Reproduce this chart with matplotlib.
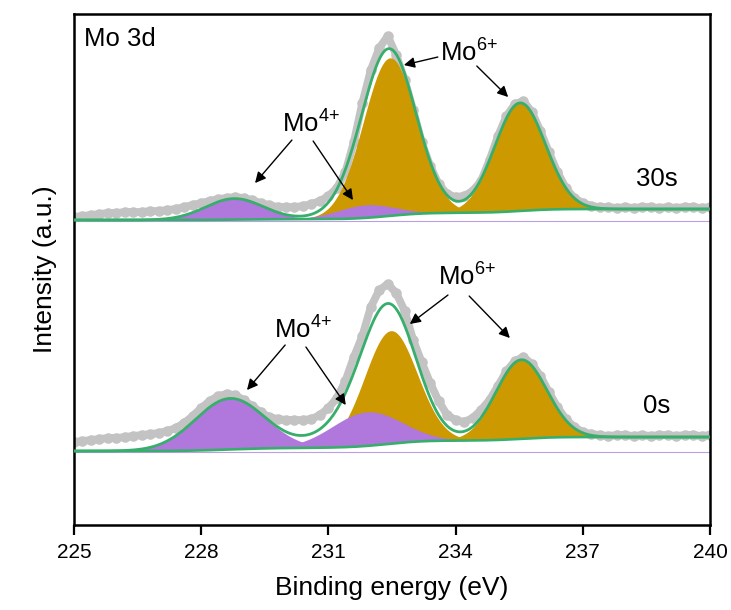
import numpy as np
import matplotlib

matplotlib.use("Agg")
import matplotlib.pyplot as plt

plt.rcParams["font.family"] = ["Liberation Sans", "DejaVu Sans"]
plt.rcParams["mathtext.fontset"] = "custom"
plt.rcParams["mathtext.rm"] = "Liberation Sans"
plt.rcParams["mathtext.it"] = "Liberation Sans:italic"

# binding energy of the measured points (eV)
energy = np.round(np.arange(225.0, 240.01, 0.2), 1)

# measured Mo 3d counts (a.u.), each relative to its own zero line
counts_0s = [
    10, 11, 12, 13, 14, 14, 15, 16, 17, 18, 19, 21, 24, 29, 36,
    44, 51, 56, 58, 57, 52, 46, 40, 35, 33,
    32, 32, 32, 33, 37, 44, 54, 71, 95, 116,
    145, 162, 168, 159, 141, 112, 90, 69, 51, 37,
    32, 30, 34, 42, 52, 66, 81, 91, 95, 88,
    76, 60, 45, 33, 25, 20, 18, 17, 16, 17,
    17, 16, 17, 16, 17, 17, 16, 17, 17, 16,
    17,
]
counts_30s = [
    4, 5, 6, 7, 8, 8, 9, 9, 9, 10, 10, 11, 12, 14, 16,
    18, 20, 22, 23, 24, 23, 21, 18, 16, 14,
    14, 14, 15, 17, 20, 25, 33, 49, 79, 118,
    151, 173, 185, 166, 141, 111, 79, 55, 37, 27,
    24, 25, 30, 40, 61, 85, 105, 117, 120, 109,
    90, 69, 49, 33, 23, 18, 15, 14, 14, 13,
    14, 13, 14, 14, 13, 14, 13, 14, 14, 13,
    14,
]

# fitted components: Mo4+ 3d5/2, Mo4+ 3d3/2, Mo6+ 3d5/2, Mo6+ 3d3/2
species = ["Mo4+", "Mo4+", "Mo6+", "Mo6+"]
centers_0s = [228.68, 231.90, 232.47, 235.55]
heights_0s = [51, 34, 113, 79]
fwhm_0s = [1.93, 1.93, 1.46, 1.41]
centers_30s = [228.78, 231.88, 232.45, 235.52]
heights_30s = [21, 13, 158, 108]
fwhm_30s = [1.60, 1.60, 1.48, 1.41]

# background levels at the low / high binding energy ends
background_0s = (1, 15)
background_30s = (1, 12)

offset_30s = 231

GOLD = "#CC9900"
PURPLE = "#B077DD"
GREEN = "#38AE6C"
GRAY = "#C3C3C3"


def gaussian(x, center, height, fwhm):
    return height * np.exp(-4 * np.log(2) * (x - center) ** 2 / fwhm ** 2)


def shirley_background(x, peaks_sum, low, high):
    steps = np.concatenate([[0.0], np.cumsum((peaks_sum[1:] + peaks_sum[:-1]) / 2 * np.diff(x))])
    return low + (high - low) * steps / steps[-1]


def draw_spectrum(ax, counts, centers, heights, widths, background, offset):
    grid = np.linspace(225, 240, 1501)
    components = [gaussian(grid, c, h, w) for c, h, w in zip(centers, heights, widths)]
    bg = shirley_background(grid, sum(components), *background) + offset

    ax.axhline(offset, color="#B9A0E2", lw=0.8, zorder=1)
    ax.plot(energy, np.asarray(counts) + offset, color=GRAY, lw=5.6,
            marker="o", ms=7.6, mec="none", solid_capstyle="round", zorder=2)
    for name in ("Mo6+", "Mo4+"):
        for comp, kind in zip(components, species):
            if kind == name:
                ax.fill_between(grid, bg, bg + comp, color=GOLD if name == "Mo6+" else PURPLE,
                                lw=0, zorder=3)
    ax.plot(grid, bg + sum(components), color=GREEN, lw=2.0, zorder=4)
    ax.plot(grid, bg, color=GREEN, lw=1.9, zorder=4)


def label_with_arrows(ax, text, pos, arrows):
    ax.text(*pos, text, fontsize=18.5, ha="left", va="baseline", zorder=6)
    for tail, head in arrows:
        ax.annotate("", xy=head, xytext=tail, zorder=6,
                    arrowprops=dict(arrowstyle="-|>", color="black", lw=1.0,
                                    mutation_scale=16, shrinkA=0, shrinkB=0))


def main():
    fig = plt.figure(figsize=(7.31, 6.10), dpi=100)
    ax = fig.add_axes([0.1012, 0.1393, 0.8701, 0.8377])

    draw_spectrum(ax, counts_0s, centers_0s, heights_0s, fwhm_0s, background_0s, 0)
    draw_spectrum(ax, counts_30s, centers_30s, heights_30s, fwhm_30s, background_30s, offset_30s)

    mo4 = r"Mo$^{\mathrm{4{+}}}$"
    mo6 = r"Mo$^{\mathrm{6{+}}}$"
    label_with_arrows(ax, mo4, (229.91, 319),
                      [((230.14, 312), (229.27, 269)), ((230.64, 311), (231.58, 252))])
    label_with_arrows(ax, mo6, (233.63, 390),
                      [((233.58, 395), (232.78, 387)), ((234.50, 386), (235.24, 355))])
    label_with_arrows(ax, mo4, (229.72, 113),
                      [((229.98, 107), (229.08, 62)), ((230.47, 105), (231.41, 47))])
    label_with_arrows(ax, mo6, (233.58, 166),
                      [((233.82, 157), (232.92, 128)), ((234.32, 156), (235.28, 114))])

    ax.text(238.25, 266, "30s", fontsize=18.5, va="baseline")
    ax.text(238.42, 39, "0s", fontsize=18.5, va="baseline")
    ax.text(225.24, 406, "Mo 3d", fontsize=18.5, va="baseline")

    ax.set_xlim(225, 240)
    ax.set_ylim(-73, 438)
    ax.set_xticks(np.arange(225, 241, 3))
    ax.set_yticks([])
    ax.tick_params(axis="x", direction="out", length=7, width=1.6, labelsize=15, pad=6)
    for spine in ax.spines.values():
        spine.set_linewidth(1.8)
    ax.set_xlabel("Binding energy (eV)", fontsize=19, labelpad=10)
    ax.set_ylabel("Intensity (a.u.)", fontsize=19, labelpad=12)

    fig.savefig("out.png", dpi=100, facecolor="white")
    plt.close(fig)


if __name__ == "__main__":
    main()
